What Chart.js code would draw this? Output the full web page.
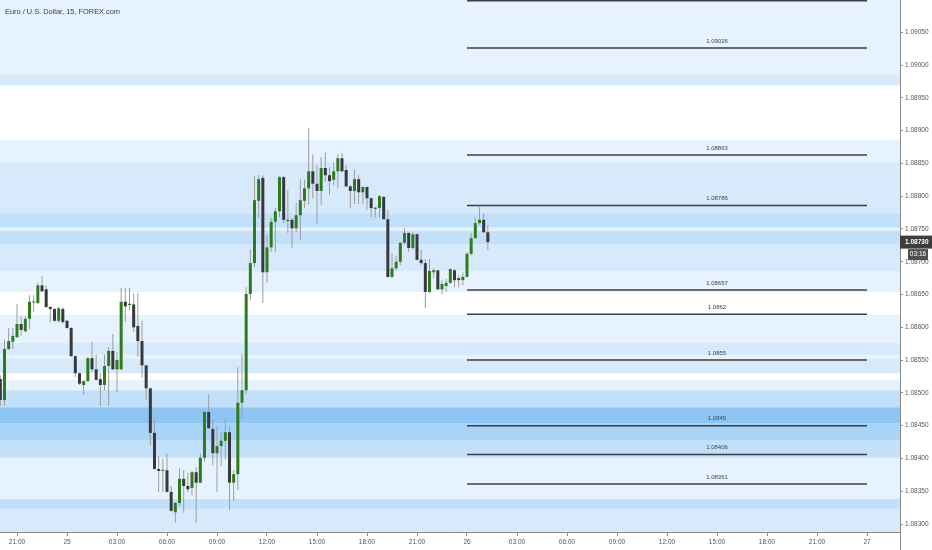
<!DOCTYPE html>
<html><head><meta charset="utf-8">
<script src="https://cdn.jsdelivr.net/npm/chart.js@4.4.1/dist/chart.umd.min.js"></script>
<style>html,body{margin:0;padding:0;background:#fff;overflow:hidden}#wrap{width:932px;height:550px;position:relative}</style>
</head><body><div id="wrap"><canvas id="c" width="932" height="550"></canvas></div>
<script>
const chartTitle = "Euro / U.S. Dollar, 15, FOREX.com";
// 15-minute candles starting 24th 20:00
const opens = [1.08521,1.08489,1.08567,1.08578,1.08585,1.08605,1.08594,1.08613,1.08638,1.08637,
1.08664,1.08658,1.08631,1.08628,1.08610,1.08628,1.08610,1.08599,1.08556,1.08530,
1.08512,1.08518,1.08553,1.08536,1.08521,1.08512,1.08541,1.08564,1.08536,1.08536,
1.08639,1.08634,1.08635,1.08602,1.08579,1.08542,1.08507,1.08439,1.08384,1.08381,
1.08382,1.08349,1.08318,1.08332,1.08369,1.08358,1.08355,1.08379,1.08363,1.08401,
1.08471,1.08445,1.08408,1.08419,1.08427,1.08440,1.08363,1.08376,1.08485,1.08504,
1.08651,1.08698,1.08793,1.08828,1.08684,1.08722,1.08761,1.08777,1.08829,1.08762,
1.08764,1.08751,1.08771,1.08793,1.08812,1.08838,1.08819,1.08808,1.08843,1.08832,
1.08825,1.08838,1.08858,1.08840,1.08815,1.08808,1.08826,1.08806,1.08814,1.08797,
1.08782,1.08782,1.08799,1.08765,1.08677,1.08690,1.08700,1.08729,1.08744,1.08721,
1.08742,1.08703,1.08698,1.08654,1.08684,1.08687,1.08658,1.08663,1.08668,1.08687,
1.08675,1.08672,1.08677,1.08712,1.08736,1.08759,1.08764,1.08745];
const highs = [1.08527,1.08581,1.08599,1.08599,1.08636,1.08617,1.08617,1.08649,1.08649,1.08668,
1.08678,1.08664,1.08632,1.08629,1.08631,1.08631,1.08611,1.08600,1.08557,1.08531,
1.08519,1.08554,1.08578,1.08558,1.08530,1.08558,1.08570,1.08590,1.08562,1.08660,
1.08660,1.08660,1.08652,1.08652,1.08610,1.08543,1.08508,1.08459,1.08404,1.08399,
1.08408,1.08358,1.08334,1.08385,1.08382,1.08378,1.08381,1.08387,1.08408,1.08472,
1.08498,1.08459,1.08449,1.08440,1.08460,1.08449,1.08382,1.08539,1.08559,1.08661,
1.08719,1.08831,1.08832,1.08832,1.08741,1.08767,1.08782,1.08831,1.08831,1.08809,
1.08767,1.08790,1.08826,1.08825,1.08904,1.08864,1.08848,1.08860,1.08867,1.08844,
1.08851,1.08864,1.08866,1.08848,1.08817,1.08841,1.08832,1.08815,1.08815,1.08798,
1.08783,1.08802,1.08800,1.08779,1.08713,1.08709,1.08730,1.08751,1.08745,1.08745,
1.08743,1.08719,1.08704,1.08704,1.08690,1.08688,1.08672,1.08674,1.08690,1.08689,
1.08680,1.08684,1.08715,1.08744,1.08767,1.08783,1.08774,1.08756];
const lows = [1.08480,1.08480,1.08565,1.08567,1.08584,1.08587,1.08593,1.08597,1.08623,1.08636,
1.08654,1.08630,1.08608,1.08608,1.08607,1.08606,1.08598,1.08555,1.08524,1.08512,
1.08497,1.08517,1.08532,1.08519,1.08480,1.08504,1.08480,1.08535,1.08501,1.08535,
1.08608,1.08626,1.08593,1.08555,1.08523,1.08489,1.08420,1.08383,1.08349,1.08349,
1.08348,1.08319,1.08302,1.08327,1.08317,1.08349,1.08344,1.08302,1.08362,1.08395,
1.08445,1.08390,1.08349,1.08388,1.08398,1.08321,1.08335,1.08352,1.08460,1.08498,
1.08642,1.08692,1.08767,1.08637,1.08668,1.08715,1.08715,1.08768,1.08759,1.08744,
1.08721,1.08745,1.08733,1.08782,1.08787,1.08797,1.08758,1.08787,1.08822,1.08802,
1.08817,1.08812,1.08837,1.08814,1.08782,1.08788,1.08788,1.08788,1.08779,1.08768,
1.08768,1.08768,1.08764,1.08675,1.08675,1.08687,1.08695,1.08726,1.08715,1.08718,
1.08702,1.08695,1.08629,1.08652,1.08675,1.08657,1.08651,1.08654,1.08666,1.08661,
1.08661,1.08664,1.08676,1.08710,1.08735,1.08756,1.08744,1.08718];
const closes = [1.08489,1.08567,1.08579,1.08587,1.08605,1.08596,1.08613,1.08639,1.08639,1.08664,
1.08655,1.08631,1.08628,1.08610,1.08629,1.08608,1.08599,1.08556,1.08530,1.08514,
1.08518,1.08553,1.08536,1.08520,1.08512,1.08541,1.08564,1.08536,1.08550,1.08639,
1.08632,1.08636,1.08600,1.08579,1.08542,1.08507,1.08439,1.08384,1.08381,1.08382,
1.08349,1.08320,1.08332,1.08369,1.08358,1.08353,1.08379,1.08363,1.08401,1.08471,
1.08446,1.08408,1.08419,1.08427,1.08440,1.08363,1.08376,1.08485,1.08504,1.08651,
1.08698,1.08794,1.08826,1.08684,1.08722,1.08761,1.08777,1.08829,1.08764,1.08764,
1.08751,1.08771,1.08794,1.08812,1.08838,1.08819,1.08808,1.08843,1.08832,1.08823,
1.08838,1.08858,1.08838,1.08815,1.08808,1.08826,1.08806,1.08814,1.08797,1.08782,
1.08781,1.08800,1.08765,1.08677,1.08690,1.08700,1.08729,1.08744,1.08721,1.08742,
1.08703,1.08698,1.08654,1.08686,1.08687,1.08658,1.08666,1.08668,1.08689,1.08672,
1.08672,1.08677,1.08712,1.08736,1.08759,1.08764,1.08745,1.08730];
const xTickLabels = ["21:00","25","03:00","06:00","09:00","12:00","15:00","18:00","21:00","26",
"03:00","06:00","09:00","12:00","15:00","18:00","21:00","27"];
const yTickValues = [1.0830,1.0835,1.0840,1.0845,1.0850,1.0855,1.0860,1.0865,1.0870,1.0875,
1.0880,1.0885,1.0890,1.0895,1.0900,1.0905];
const levelValues = [1.09098,1.09026,1.08863,1.08786,1.08657,1.0862,1.0855,1.0845,1.08406,1.08361];
const levelLabels = ["1.09098","1.09026","1.08863","1.08786","1.08657","1.0862","1.0855","1.0845","1.08406","1.08361"];
// background zones: low, high, intensity (0 = none .. 5 = strongest)
const zoneLow  = [1.08985,1.08969,1.08852,1.08805,1.08774,1.08761,1.08752,1.08747,1.08727,1.08685,1.08654,1.08576,1.08558,1.08552,1.08530,1.08504,1.08478,1.08453,1.08427,1.08401,1.08338,1.08323,1.0828];
const zoneHigh = [1.0911, 1.08985,1.08886,1.08852,1.08805,1.08774,1.08761,1.08752,1.08747,1.08727,1.08685,1.08619,1.08576,1.08558,1.08552,1.08520,1.08504,1.08478,1.08453,1.08427,1.08401,1.08338,1.08323];
const zoneLevel = [1,2,1,2,2,3,3,1,3,2,1,1,2,1,2,1,3,5,4,3,1,3,2];
const lastPrice = 1.08730;
const lastPriceText = "1.08730";
const countdownText = "03:16";

const shadeColors = ['#ffffff','#e6f2fd','#d6eafc','#c3e0fa','#a9d4f8','#8dc6f5'];
const GREEN = '#2f7a1d', DARK = '#38383d', WICK = '#9d9d9d';
const FONT = '"Liberation Sans", Arial, sans-serif';

const idx = opens.map((_, i) => i);
const wickData = idx.map(i => ({x: i, y: [lows[i], highs[i]]}));
const bodyData = idx.map(i => ({x: i, y: [opens[i], closes[i]]}));
const bodyColors = idx.map(i => closes[i] >= opens[i] ? GREEN : DARK);
const xTickPos = xTickLabels.map((_, k) => 4 + 12 * k);
const LEVEL_START = 112, LEVEL_END = 208, LABEL_AT = 172;

const levelDatasets = levelValues.map(v => ({
  type: 'line', data: [{x: LEVEL_START, y: v}, {x: LEVEL_END, y: v}],
  borderColor: '#3f3f3f', borderWidth: 1.5, pointRadius: 0, fill: false, order: 10
}));

const zonesPlugin = {
  id: 'zones',
  beforeDatasetsDraw(chart) {
    const {ctx, chartArea: a, scales: {y}} = chart;
    ctx.save(); ctx.beginPath(); ctx.rect(a.left, a.top, a.width, a.height); ctx.clip();
    for (let k = 0; k < zoneLow.length; k++) {
      const y1 = y.getPixelForValue(zoneHigh[k]), y2 = y.getPixelForValue(zoneLow[k]);
      ctx.fillStyle = shadeColors[zoneLevel[k]];
      ctx.fillRect(a.left, y1, a.width, y2 - y1);
    }
    ctx.restore();
  },
  afterDatasetsDraw(chart) {
    const {ctx, chartArea: a, scales: {x, y}} = chart;
    ctx.save();
    ctx.font = '6px ' + FONT; ctx.fillStyle = '#444'; ctx.textAlign = 'center'; ctx.textBaseline = 'middle';
    const lx = x.getPixelForValue(LABEL_AT);
    levelValues.forEach((v, k) => {
      const py = y.getPixelForValue(v);
      if (py - 7 < a.top + 4) return;
      ctx.fillText(levelLabels[k], lx, py - 7);
    });
    ctx.restore();
  },
  afterDraw(chart) {
    const {ctx, chartArea: a, scales: {y}} = chart;
    ctx.save();
    ctx.strokeStyle = '#8a8a8a'; ctx.lineWidth = 1;
    ctx.beginPath(); ctx.moveTo(a.right + 0.5, 0); ctx.lineTo(a.right + 0.5, chart.height); ctx.stroke();
    ctx.font = '7.4px ' + FONT; ctx.fillStyle = '#3c3c3c'; ctx.textAlign = 'left'; ctx.textBaseline = 'middle';
    ctx.fillText(chartTitle, 5, 12);
    const py = y.getPixelForValue(lastPrice);
    ctx.fillStyle = '#3d3d3d'; ctx.fillRect(a.right, py - 6.5, chart.width - a.right, 13);
    ctx.fillStyle = '#ffffff'; ctx.font = 'bold 6.5px ' + FONT; ctx.textAlign = 'left';
    ctx.fillText(lastPriceText, a.right + 5, py);
    ctx.fillStyle = '#4f4f4f'; ctx.fillRect(a.right + 8, py + 7, 20, 11);
    ctx.fillStyle = '#ffffff'; ctx.textAlign = 'center'; ctx.font = '6.5px ' + FONT;
    ctx.fillText(countdownText, a.right + 18, py + 12.5);
    ctx.restore();
  }
};

new Chart(document.getElementById('c'), {
  type: 'bar',
  data: {
    datasets: [
      {label: 'body', data: bodyData, backgroundColor: bodyColors, grouped: false, maxBarThickness: 3,
       minBarLength: 1, borderWidth: 0, inflateAmount: 0, order: 0},
      {label: 'wick', data: wickData, backgroundColor: WICK, grouped: false, maxBarThickness: 1,
       borderWidth: 0, inflateAmount: 0, order: 1},
      ...levelDatasets
    ]
  },
  options: {
    responsive: false, animation: false, devicePixelRatio: 1,
    layout: {padding: 0, autoPadding: false},
    plugins: {legend: {display: false}, tooltip: {enabled: false}, title: {display: false}},
    scales: {
      x: {
        type: 'linear', min: -0.08, max: 215.92, offset: false, bounds: 'data',
        afterBuildTicks: s => { s.ticks = xTickPos.map(v => ({value: v})); },
        afterFit: s => { s.height = 18; s.paddingLeft = 0; s.paddingRight = 0; },
        ticks: {autoSkip: false, maxRotation: 0, padding: 2, color: '#555',
          font: {size: 6.5, family: FONT}, callback: (v, k) => xTickLabels[k]},
        grid: {display: true, drawOnChartArea: false, drawTicks: true, tickLength: 4, color: '#8a8a8a', offset: false},
        border: {display: true, color: '#8a8a8a'}
      },
      y: {
        type: 'linear', position: 'right', min: 1.082878, max: 1.090993, bounds: 'data',
        afterBuildTicks: s => { s.ticks = yTickValues.map(v => ({value: v})); },
        afterFit: s => { s.width = 32; s.paddingTop = 0; s.paddingBottom = 0; },
        ticks: {autoSkip: false, padding: 2, color: '#555', font: {size: 6.5, family: FONT},
          callback: v => Number(v).toFixed(5)},
        grid: {display: true, drawOnChartArea: false, drawTicks: true, tickLength: 3, color: '#8a8a8a'},
        border: {display: true, color: '#8a8a8a'}
      }
    }
  },
  plugins: [zonesPlugin]
});
</script></body></html>
